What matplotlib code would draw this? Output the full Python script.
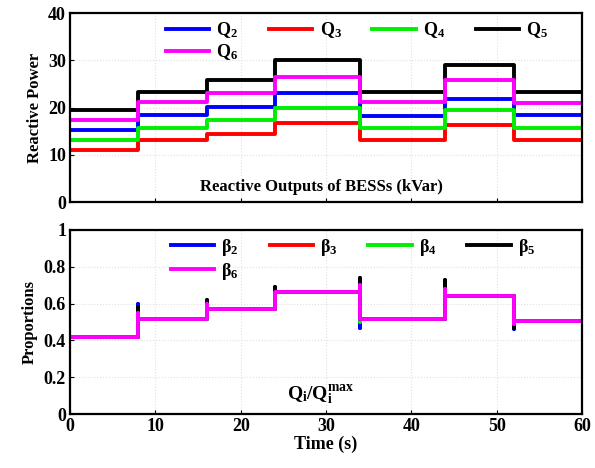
import numpy as np
import matplotlib.pyplot as plt

plt.rcParams['font.family'] = 'Liberation Serif'
plt.rcParams['font.weight'] = 'bold'
plt.rcParams['mathtext.fontset'] = 'custom'
plt.rcParams['mathtext.rm'] = 'Liberation Serif:bold'
plt.rcParams['mathtext.it'] = 'Liberation Serif:bold'
plt.rcParams['mathtext.bf'] = 'Liberation Serif:bold'

# segment boundaries (s)
edges = [0, 8, 16, 24, 34, 44, 52, 60]

# reactive power levels per segment (kVar)
q2 = [15.2, 18.4, 20.2, 23.2, 18.2, 21.8, 18.4]
q3 = [11.0, 13.1, 14.5, 16.7, 13.1, 16.3, 13.1]
q4 = [13.1, 15.6, 17.4, 20.0, 15.7, 19.5, 15.6]
q5 = [19.5, 23.3, 25.8, 30.0, 23.3, 29.0, 23.3]
q6 = [17.4, 21.2, 23.2, 26.5, 21.1, 25.8, 20.9]

# proportions per segment and transient peaks at each switch
beta = [0.42, 0.515, 0.57, 0.66, 0.515, 0.64, 0.507]
peak2 = [0.60, 0.61, 0.68, 0.47, 0.72, 0.46]
peak3 = [0.57, 0.60, 0.67, 0.70, 0.70, 0.48]
peak4 = [0.56, 0.59, 0.67, 0.50, 0.68, 0.49]
peak5 = [0.58, 0.62, 0.69, 0.74, 0.73, 0.47]
peak6 = [0.55, 0.60, 0.66, 0.70, 0.68, 0.49]

colors = ['#0000ff', '#ff0000', '#00ee00', 'black', '#ff00ff']


def stepPath(levels, peaks=None):
    x = [edges[0]]
    y = [levels[0]]
    for i in range(1, len(edges) - 1):
        x += [edges[i], edges[i]]
        if peaks is None:
            y += [levels[i - 1], levels[i]]
        else:
            x += [edges[i]]
            y += [levels[i - 1], peaks[i - 1], levels[i]]
    x.append(edges[-1])
    y.append(levels[-1])
    return x, y


def rowLegend(ax, x0, size):
    # legend fills columns first; reorder so rows read 2 3 4 5 / 6
    h, l = ax.get_legend_handles_labels()
    order = [0, 4, 1, 2, 3]
    ax.legend([h[i] for i in order], [l[i] for i in order], loc='upper left',
              bbox_to_anchor=(x0, 1.05), ncol=4, frameon=False, fontsize=size,
              handlelength=2.4, columnspacing=1.7, labelspacing=0.15,
              handletextpad=0.4)


fig = plt.figure(figsize=(5.95, 4.68), dpi=100)
ax1 = fig.add_axes([0.118, 0.568, 0.860, 0.404])
ax2 = fig.add_axes([0.118, 0.115, 0.860, 0.394])

# Reactive power
qs = [q2, q3, q4, q5, q6]
qlabels = ['Q$_2$', 'Q$_3$', 'Q$_4$', 'Q$_5$', 'Q$_6$']
for vals, c, lab in zip(qs, colors, qlabels):
    x, y = stepPath(vals)
    ax1.plot(x, y, color=c, lw=2.8, label=lab)
ax1.set_xlim(0, 60)
ax1.set_ylim(0, 40)
ax1.set_yticks([0, 10, 20, 30, 40])
ax1.set_xticks(range(0, 61, 10))
ax1.set_xticklabels([])
ax1.set_ylabel('Reactive Power', fontsize=12, fontweight='bold', labelpad=4)
ax1.text(0.49, 0.08, 'Reactive Outputs of BESSs (kVar)', transform=ax1.transAxes,
         ha='center', va='center', fontsize=12, fontweight='bold')
rowLegend(ax1, 0.155, 13)

# Proportions
peaks = [peak2, peak3, peak4, peak5, peak6]
blabels = ['β$_2$', 'β$_3$', 'β$_4$', 'β$_5$', 'β$_6$']
for pk, c, lab in zip(peaks, colors, blabels):
    x, y = stepPath(beta, pk)
    ax2.plot(x, y, color=c, lw=2.8, label=lab)
ax2.set_xlim(0, 60)
ax2.set_ylim(0, 1)
ax2.set_yticks([0, 0.2, 0.4, 0.6, 0.8, 1])
ax2.set_yticklabels(['0', '0.2', '0.4', '0.6', '0.8', '1'])
ax2.set_xticks(range(0, 61, 10))
ax2.set_ylabel('Proportions', fontsize=12, fontweight='bold', labelpad=4)
ax2.set_xlabel('Time (s)', fontsize=13, fontweight='bold', labelpad=0)
ax2.text(0.49, 0.10, 'Q$_i$/Q$_i^{max}$', transform=ax2.transAxes,
         ha='center', va='center', fontsize=14, fontweight='bold')
rowLegend(ax2, 0.165, 13)

for ax in (ax1, ax2):
    ax.grid(True, linestyle=':', color='#e0e0e0', lw=0.8)
    ax.tick_params(direction='in', labelsize=13, length=3, pad=3)
    for sp in ax.spines.values():
        sp.set_linewidth(1.6)

fig.savefig('out.png', dpi=100)
